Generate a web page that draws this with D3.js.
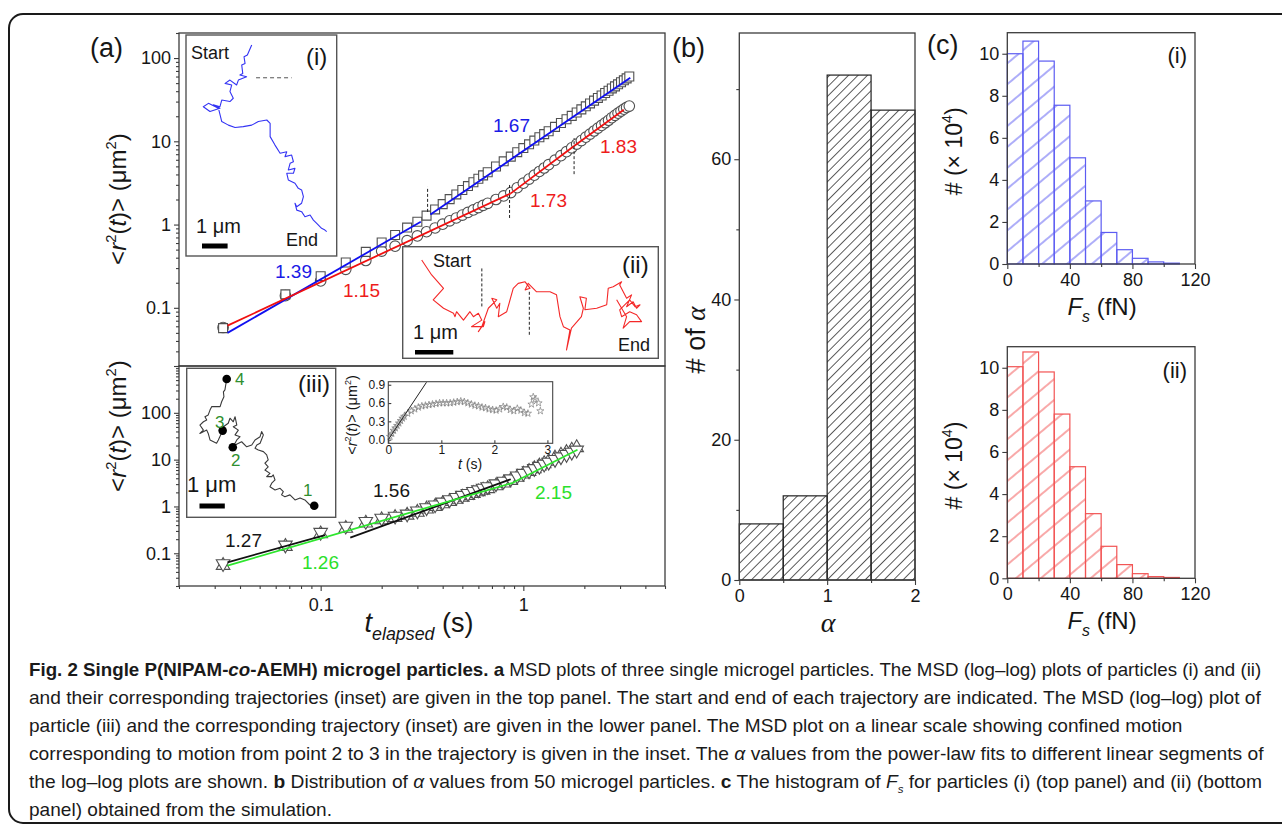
<!DOCTYPE html>
<html><head><meta charset="utf-8">
<script src="https://cdn.jsdelivr.net/npm/d3@7"></script>
<style>
body{margin:0;background:#fff}
svg text{font-family:"Liberation Sans",Arial,sans-serif}
</style></head>
<body><svg id="fig" width="1282" height="830"></svg>
<script>
// ---- panel (a) top: MSD of particles (i) squares and (ii) circles
const tTop = [0.033,0.067,0.1,0.133,0.167,0.2,0.233,0.267,0.3,0.333,0.367,0.4,0.433,0.467,0.5,0.533,0.567,0.6,0.633,0.667,
  0.733,0.8,0.867,0.933,1.0,1.067,1.133,1.2,1.267,1.333,1.433,1.533,1.633,1.733,1.833,1.933,2.033,2.133,2.233,2.333,
  2.433,2.533,2.633,2.733,2.833,2.933,3.033,3.133,3.233,3.333];
const msdI = [0.057,0.145,0.24,0.35,0.47,0.61,0.75,0.92,1.08,1.28,1.52,1.76,2.02,2.3,2.6,2.9,3.22,3.55,3.9,4.25,
  4.98,5.75,6.55,7.4,8.3,9.2,10.2,11.2,12.2,13.2,14.9,16.6,18.4,20.2,22.2,24.2,26.3,28.5,30.8,33.2,
  35.5,38,40.5,43.2,45.7,48.4,51.2,54,57,60];
const msdII = [0.058,0.14,0.21,0.29,0.37,0.48,0.55,0.64,0.73,0.82,0.91,1.01,1.11,1.2,1.3,1.4,1.5,1.6,1.7,1.8,
  2.0,2.21,2.42,2.77,3.14,3.52,3.92,4.34,4.78,5.24,5.94,6.72,7.51,8.36,9.25,10.2,11.2,12.2,13.3,14.4,
  15.5,16.7,17.9,19.2,20.5,21.8,23.1,24.3,25.5,26.5];
// power-law fit segments [t0, y0, t1, y1]
const fitsI  = [[0.0347,0.050,0.312,1.08],[0.348,1.32,3.37,58]];
const fitsII = [[0.0347,0.061,0.867,2.37],[0.867,2.37,1.78,8.8],[1.78,8.8,3.13,24]];
const breaksTop = [[0.337,1.42,2.84],[0.855,1.2,3.14],[1.78,4.03,10.9]];

// ---- panel (a) bottom: particle (iii)
const tBot = [0.033,0.067,0.1,0.133,0.167,0.2,0.233,0.267,0.3,0.333,0.367,0.4,0.433,0.467,0.5,0.533,0.567,0.6,0.633,0.667,
  0.733,0.8,0.867,0.933,1.0,1.067,1.133,1.2,1.267,1.333,1.433,1.533,1.633,1.733,1.833];
const msdIIIdn = [0.060,0.150,0.28,0.38,0.48,0.56,0.62,0.69,0.80,0.94,1.08,1.24,1.40,1.56,1.73,1.9,2.09,2.27,2.46,2.65,
  3.05,3.47,3.9,4.48,5.1,5.77,6.46,7.2,8.0,8.8,10.1,11.5,12.9,14.4,16.0];
const msdIIIup = [0.055,0.14,0.26,0.34,0.44,0.52,0.58,0.65,0.75,0.88,1.0,1.14,1.28,1.42,1.58,1.72,1.9,2.05,2.22,2.4,
  2.75,3.15,3.6,4.2,4.9,5.6,6.4,7.3,8.2,9.2,10.8,12.5,14.2,16.0,18.0];
const fitsBlack = [[0.0347,0.064,0.105,0.245],[0.14,0.215,0.867,3.81]];
const fitsGreen = [[0.0347,0.0545,0.887,3.2],[0.887,3.2,1.85,16.3]];

// ---- trajectories (micrometres, start at 0,0)
const trajI = [[0,0],[-0.17,-0.39],[-0.30,-0.46],[-0.26,-0.72],[-0.39,-0.78],[-0.35,-1.11],[-0.46,-1.17],[-0.20,-1.24],
  [-0.52,-1.37],[-0.59,-1.56],[-0.85,-1.37],[-1.04,-1.50],[-0.78,-1.56],[-0.85,-1.82],[-0.72,-2.08],[-0.85,-2.21],
  [-1.17,-2.15],[-1.24,-2.41],[-1.50,-2.34],[-1.24,-2.47],[-1.63,-2.60],[-1.89,-2.41],[-1.69,-2.28],[-1.30,-2.47],
  [-1.17,-2.99],[-0.91,-3.13],[-0.65,-3.22],[-0.33,-3.19],[0,-3.13],[0.26,-2.99],[0.59,-2.93],[0.72,-3.06],
  [0.72,-3.58],[0.91,-3.91],[1.11,-4.23],[1.37,-4.17],[1.30,-4.36],[1.56,-4.30],[1.63,-4.56],[1.50,-4.62],
  [1.43,-4.88],[1.69,-4.82],[1.63,-5.01],[1.37,-5.01],[1.43,-5.27],[1.69,-5.40],[1.82,-5.60],[1.95,-5.66],
  [2.02,-5.92],[1.95,-6.18],[1.76,-6.32],[1.69,-6.18],[1.76,-6.45],[1.95,-6.51],[2.08,-6.71],[2.28,-6.64],
  [2.41,-6.84],[2.54,-6.97],[2.73,-7.16],[2.86,-7.23],[2.93,-7.29]];
const trajII = [[0,0],[0.26,-0.39],[0.57,-0.74],[0.30,-1.04],[0.57,-1.26],[0.83,-1.39],[0.87,-1.48],[0.91,-1.35],
  [1.09,-1.57],[1.26,-1.35],[1.35,-1.48],[1.48,-1.39],[1.57,-1.57],[1.30,-1.74],[1.61,-1.74],[1.65,-1.61],
  [1.48,-1.87],[1.57,-1.74],[1.74,-1.26],[1.96,-1.04],[1.83,-1.00],[1.96,-1.26],[2.04,-1.13],[2.00,-1.48],
  [2.22,-1.35],[2.39,-0.74],[2.52,-0.61],[2.70,-0.57],[2.83,-0.74],[2.70,-0.78],[2.78,-0.61],[3.00,-0.83],
  [3.35,-0.83],[3.52,-0.91],[3.61,-1.48],[3.70,-1.74],[3.87,-1.83],[3.78,-2.35],[3.91,-1.78],[4.17,-1.48],
  [4.22,-1.26],[4.13,-0.96],[4.30,-1.00],[4.26,-1.30],[4.57,-1.26],[4.83,-1.17],[4.87,-0.74],[5.00,-0.70],
  [5.22,-0.57],[5.17,-0.65],[5.35,-1.00],[5.48,-0.91],[5.35,-1.22],[5.52,-1.09],[5.61,-1.26],[5.70,-1.17],
  [5.57,-1.22],[5.43,-1.04],[5.17,-1.30],[5.22,-1.48],[5.43,-1.35],[5.61,-1.43],[5.74,-1.61],[5.43,-1.61],
  [5.26,-1.78],[5.35,-1.48],[5.09,-1.04]];
const trajIII = [[0,0],[-0.07,-0.43],[-0.13,-0.51],[-0.11,-0.70],[-0.20,-0.90],[-0.26,-1.09],[-0.59,-1.09],[-0.66,-1.23],
  [-0.73,-1.42],[-0.86,-1.49],[-0.79,-1.62],[-0.92,-1.69],[-1.06,-1.82],[-0.92,-2.02],[-1.06,-2.15],[-0.79,-2.02],
  [-0.73,-2.15],[-0.66,-2.41],[-0.40,-2.54],[-0.33,-2.41],[-0.16,-2.04],[-0.13,-1.89],[0.06,-1.75],[0.13,-1.55],
  [0.26,-1.69],[0.33,-1.49],[0.40,-1.82],[0.26,-1.89],[0.46,-2.02],[0.33,-2.21],[0.53,-2.28],[0.40,-2.41],
  [0.24,-2.70],[0.33,-2.61],[0.59,-2.48],[0.79,-2.68],[0.99,-2.61],[1.12,-2.41],[1.32,-2.28],[1.38,-2.08],
  [1.45,-2.21],[1.32,-2.54],[1.19,-2.61],[1.12,-2.74],[1.25,-2.81],[1.45,-2.87],[1.58,-3.00],[1.64,-3.20],
  [1.51,-3.33],[1.64,-3.47],[1.51,-3.60],[1.71,-3.73],[1.58,-3.86],[1.78,-3.86],[1.84,-3.79],[1.91,-3.99],
  [1.78,-4.12],[1.71,-4.26],[1.91,-4.39],[2.11,-4.32],[2.24,-4.45],[2.17,-4.58],[2.30,-4.65],[2.50,-4.58],
  [2.70,-4.78],[2.90,-4.70],[3.09,-4.78],[3.29,-4.98],[3.46,-5.01]];
const pointsIII = [["4",0,0],["3",-0.16,-2.04],["2",0.24,-2.70],["1",3.46,-5.01]];
const dashI = [[0.17,-1.28],[1.56,-1.28]];
const dashII = [[[1.57,-0.22],[1.57,-1.22]],[[2.81,-0.83],[2.81,-1.97]]];

// ---- inset: linear MSD, confined part of (iii)
const tConf = [0.033,0.067,0.1,0.133,0.167,0.2,0.233,0.267,0.3,0.367,0.433,0.5,0.567,0.633,0.7,0.767,0.833,0.9,0.967,1.033,
  1.1,1.167,1.233,1.3,1.367,1.433,1.5,1.567,1.633,1.7,1.767,1.833,1.9,1.967,2.033,2.1,2.167,2.233,2.3,2.367,
  2.433,2.5,2.567,2.633,2.7,2.733,2.767,2.833,2.867];
const msdConf = [0.05,0.10,0.15,0.19,0.23,0.27,0.31,0.35,0.38,0.43,0.47,0.50,0.53,0.55,0.56,0.57,0.58,0.59,0.60,0.60,
  0.60,0.60,0.61,0.62,0.63,0.62,0.60,0.58,0.56,0.55,0.53,0.52,0.50,0.49,0.48,0.50,0.54,0.53,0.49,0.47,
  0.51,0.48,0.44,0.43,0.58,0.70,0.66,0.60,0.47];
const confFit = [[0,0],[0.72,0.94]];

// ---- panel (b): distribution of alpha
const alphaBins = [0,0.5,1,1.5];
const alphaCounts = [8,12,72,67];

// ---- panel (c): histogram of Fs (x 10^4)
const fsBins = [0,10,20,30,40,50,60,70,80,90,100];
const histI  = [10.0,10.6,9.65,7.55,5.05,3.0,1.5,0.68,0.27,0.1,0.04];
const histII = [10.05,10.75,9.8,7.8,5.3,3.07,1.52,0.65,0.22,0.08,0.04];

const INK = '#161616', FRAME = '#3c3c3c';
const svg = d3.select('#fig');
svg.append('rect').attr('width',1282).attr('height',830).attr('fill','#fff');
svg.append('rect').attr('x',9).attr('y',14).attr('width',1330).attr('height',809).attr('rx',14)
  .attr('fill','none').attr('stroke','#1a1a1a').attr('stroke-width',2);
const defs = svg.append('defs');

function rich(g, x, y, parts, o) {
  const fs = o.size;
  const t = g.append('text').attr('x',x).attr('y',y).attr('font-size',fs)
    .attr('fill',o.fill||INK).attr('text-anchor',o.anchor||'start');
  if (o.rotate) t.attr('transform',`rotate(${o.rotate},${x},${y})`);
  if (o.family) t.attr('font-family',o.family);
  let shift = 0;
  parts.forEach(p => {
    const s = t.append('tspan').text(p.t);
    const want = p.sup ? -0.42*fs : p.sub ? 0.28*fs : 0;
    if (want !== shift) { s.attr('dy', want-shift); shift = want; }
    if (p.sup || p.sub) s.attr('font-size', fs*(p.sc||0.62));
    if (p.i) s.attr('font-style','italic');
    if (p.b) s.attr('font-weight','bold');
    if (p.f) s.attr('font-family',p.f);
  });
  return t;
}
function label(g, x, y, txt, size, fill, anchor) {
  return g.append('text').attr('x',x).attr('y',y).attr('font-size',size)
    .attr('fill',fill||INK).attr('text-anchor',anchor||'start').text(txt);
}
function styleAxis(a, size) {
  a.attr('font-size',size).attr('font-family','"Liberation Sans",Arial,sans-serif');
  a.select('.domain').remove();
  a.selectAll('line').attr('stroke',FRAME).attr('stroke-width',1.1);
  a.selectAll('text').attr('fill',INK);
}
const isDecade = v => Math.abs(Math.log10(v) - Math.round(Math.log10(v))) < 1e-9;
function logVals(lo, hi) {
  const v = [];
  for (let e = -3; e <= 4; e++) for (let k = 1; k < 10; k++) {
    const t = +(k*Math.pow(10,e)).toPrecision(3);
    if (t >= lo*0.999 && t <= hi*1.001) v.push(t);
  }
  return v;
}
function logAxis(g, sc, pos, side, labels) {
  const all = logVals(...sc.domain().slice().sort((a,b)=>a-b));
  const mk = side === 'left' ? d3.axisLeft : d3.axisBottom;
  const tr = side === 'left' ? `translate(${pos},0)` : `translate(0,${pos})`;
  styleAxis(g.append('g').attr('transform',tr)
    .call(mk(sc).tickValues(all.filter(v=>!isDecade(v))).tickSize(3).tickFormat('')), 18);
  styleAxis(g.append('g').attr('transform',tr)
    .call(mk(sc).tickValues(all.filter(isDecade)).tickSize(5).tickPadding(side==='left'?3:7)
      .tickFormat(d => labels.includes(d) ? String(d) : '')), 18);
}
function hatch(id, color, spacing, angle, w) {
  const p = defs.append('pattern').attr('id',id).attr('patternUnits','userSpaceOnUse')
    .attr('width',spacing).attr('height',spacing).attr('patternTransform',`rotate(${angle})`);
  p.append('line').attr('x1',spacing/2).attr('y1',0).attr('x2',spacing/2).attr('y2',spacing)
    .attr('stroke',color).attr('stroke-width',w);
}

// ================= panel (a) =================
const gA = svg.append('g');
const xA = d3.scaleLog().domain([0.02,5]).range([179,665]);
const yTop = d3.scaleLog().domain([0.02,200]).range([366,33]);
const yBot = d3.scaleLog().domain([0.02,1000]).range([586,366]);

label(gA, 90, 57, '(a)', 27);
logAxis(gA, yTop, 179, 'left', [0.1,1,10,100]);
logAxis(gA, yBot, 179, 'left', [0.1,1,10,100]);
logAxis(gA, xA, 586, 'bottom', [0.1,1]);
gA.append('rect').attr('x',179).attr('y',33).attr('width',486).attr('height',333)
  .attr('fill','none').attr('stroke',FRAME).attr('stroke-width',1.3);
gA.append('rect').attr('x',179).attr('y',366).attr('width',486).attr('height',220)
  .attr('fill','none').attr('stroke',FRAME).attr('stroke-width',1.3);

const msdTitle = [{t:'<'},{t:'r',i:1},{t:'2',sup:1},{t:'('},{t:'t',i:1},{t:')> (\u03bcm'},{t:'2',sup:1},{t:')'}];
rich(gA, 126, 199, msdTitle, {size:24, anchor:'middle', rotate:-90});
rich(gA, 126, 426, msdTitle, {size:24, anchor:'middle', rotate:-90});
rich(gA, 419, 632, [{t:'t',i:1},{t:'elapsed',i:1,sub:1,sc:0.66},{t:' (s)'}], {size:27, anchor:'middle'});

function markers(g, ts, vs, y, sym, size, rot) {
  g.selectAll(null).data(ts.map((t,i)=>[t,vs[i]])).enter().append('path')
    .attr('d', d3.symbol(sym, size)())
    .attr('transform', d => `translate(${xA(d[0])},${y(d[1])}) rotate(${rot||0})`)
    .attr('fill','#fff').attr('stroke','#505050').attr('stroke-width',1.1);
}
function fitLines(g, segs, y, color, w) {
  const ln = d3.line().x(d=>xA(d[0])).y(d=>y(d[1]));
  segs.forEach(s => g.append('path').attr('d', ln([[s[0],s[1]],[s[2],s[3]]]))
    .attr('stroke',color).attr('stroke-width',w||1.8).attr('fill','none'));
}
markers(gA, tTop, msdII, yTop, d3.symbolCircle, 88);
markers(gA, tTop, msdI, yTop, d3.symbolSquare, 80);
fitLines(gA, fitsI, yTop, '#1010f0');
fitLines(gA, fitsII, yTop, '#f01010');
breaksTop.forEach(b => gA.append('line').attr('x1',xA(b[0])).attr('x2',xA(b[0]))
  .attr('y1',yTop(b[1])).attr('y2',yTop(b[2])).attr('stroke','#222').attr('stroke-width',1).attr('stroke-dasharray','3,2'));
label(gA, 493, 132, '1.67', 19, '#1a1ae6');
label(gA, 600, 153, '1.83', 19, '#ee1c1c');
label(gA, 530, 207, '1.73', 19, '#ee1c1c');
label(gA, 275, 278, '1.39', 19, '#1a1ae6');
label(gA, 343, 297, '1.15', 19, '#ee1c1c');

markers(gA, tBot, msdIIIup, yBot, d3.symbolTriangle, 80, 0);
markers(gA, tBot, msdIIIdn, yBot, d3.symbolTriangle, 80, 180);
fitLines(gA, fitsBlack, yBot, '#111');
fitLines(gA, fitsGreen, yBot, '#2ee62e');
label(gA, 373, 497, '1.56', 19, INK);
label(gA, 535, 499, '2.15', 19, '#2be02b');
label(gA, 225, 547, '1.27', 19, INK);
label(gA, 302, 569, '1.26', 19, '#2be02b');

// inset boxes
function box(g, x, y, w, h) {
  g.append('rect').attr('x',x).attr('y',y).attr('width',w).attr('height',h)
    .attr('fill','#fff').attr('stroke','#555').attr('stroke-width',1.4);
}
function traj(g, pts, x0, y0, pxPerUm, color) {
  const sx = d3.scaleLinear().domain([0,1]).range([x0, x0+pxPerUm]);
  const sy = d3.scaleLinear().domain([0,1]).range([y0, y0-pxPerUm]);
  g.append('path').attr('d', d3.line().x(d=>sx(d[0])).y(d=>sy(d[1]))(pts))
    .attr('fill','none').attr('stroke',color).attr('stroke-width',1.1).attr('stroke-linejoin','round');
  return {sx, sy};
}
function scaleBar(g, s, x, y, h) {
  g.append('rect').attr('x',x).attr('y',y).attr('width',s.sx(1)-s.sx(0)).attr('height',h).attr('fill','#000');
}
// (i)
box(gA, 186, 35, 150.7, 221);
const sI = traj(gA, trajI, 251.7, 45, 25.6, '#3434f4');
gA.append('path').attr('d', d3.line().x(d=>sI.sx(d[0])).y(d=>sI.sy(d[1]))(dashI))
  .attr('stroke','#555').attr('stroke-width',1).attr('stroke-dasharray','4,3');
label(gA, 191, 59, 'Start', 18);
label(gA, 306, 65, '(i)', 24);
label(gA, 196, 233, '1 \u03bcm', 20);
scaleBar(gA, sI, 202, 243.5, 5);
label(gA, 286, 246, 'End', 18);
// (ii)
box(gA, 402.7, 246.7, 255.6, 111.6);
const sII = traj(gA, trajII, 421.7, 260, 38.3, '#f42828');
dashII.forEach(dd => gA.append('path').attr('d', d3.line().x(d=>sII.sx(d[0])).y(d=>sII.sy(d[1]))(dd))
  .attr('stroke','#222').attr('stroke-width',1).attr('stroke-dasharray','3,2'));
label(gA, 433, 267, 'Start', 18);
label(gA, 622, 273, '(ii)', 24);
label(gA, 413, 339, '1 \u03bcm', 20);
scaleBar(gA, sII, 415, 350, 4.5);
label(gA, 618, 351, 'End', 18);
// (iii)
box(gA, 186.7, 368.3, 149, 149);
const sIII = traj(gA, trajIII, 226.7, 379, 25.3, '#3a3a3a');
pointsIII.forEach(p => gA.append('circle').attr('cx',sIII.sx(p[1])).attr('cy',sIII.sy(p[2])).attr('r',4.3).attr('fill','#000'));
const numPos = {"4":[235,385],"3":[215,428],"2":[231,466],"1":[303,496]};
pointsIII.forEach(p => label(gA, numPos[p[0]][0], numPos[p[0]][1], p[0], 17, '#2f8f2f'));
label(gA, 298, 392, '(iii)', 24);
label(gA, 187, 492, '1 \u03bcm', 22);
scaleBar(gA, sIII, 199.5, 503.5, 5);

// linear inset
const xIn = d3.scaleLinear().domain([0,3.1]).range([388.3,552.7]);
const yIn = d3.scaleLinear().domain([-0.06,0.95]).range([443.3,381.7]);
gA.append('rect').attr('x',388.3).attr('y',381.7).attr('width',164.4).attr('height',61.6)
  .attr('fill','#fff').attr('stroke','#444').attr('stroke-width',1.1);
const axIy = gA.append('g').attr('transform','translate(388.3,0)')
  .call(d3.axisLeft(yIn).tickValues([0,0.3,0.6,0.9]).tickSize(-3).tickPadding(3).tickFormat(d3.format('.1f')));
styleAxis(axIy, 12);
const axIx = gA.append('g').attr('transform','translate(0,443.3)')
  .call(d3.axisBottom(xIn).tickValues([0,1,2,3]).tickSize(-3).tickPadding(2).tickFormat(d3.format('d')));
styleAxis(axIx, 12);
gA.selectAll(null).data(tConf.map((t,i)=>[t,msdConf[i]])).enter().append('path')
  .attr('d', d3.symbol(d3.symbolStar, 16)())
  .attr('transform', d => `translate(${xIn(d[0])},${yIn(d[1])})`)
  .attr('fill','none').attr('stroke','#808080').attr('stroke-width',0.7);
gA.append('path').attr('d', d3.line().x(d=>xIn(d[0])).y(d=>yIn(d[1]))(confFit))
  .attr('stroke','#222').attr('stroke-width',1);
rich(gA, 470, 469, [{t:'t',i:1},{t:' (s)'}], {size:14, anchor:'middle'});
rich(gA, 357, 415, msdTitle, {size:14.5, anchor:'middle', rotate:-90});

// ================= panel (b) =================
const gB = svg.append('g');
hatch('hb', '#333', 6.7, 45, 0.8);
const xB = d3.scaleLinear().domain([0,2]).range([739.3,915]);
const yB = d3.scaleLinear().domain([0,78]).range([580,33]);
label(gB, 672, 57, '(b)', 27);
gB.selectAll(null).data(alphaBins.map((b,i)=>[b,alphaCounts[i]])).enter().append('rect')
  .attr('x', d=>xB(d[0])).attr('width', d=>xB(d[0]+0.5)-xB(d[0]))
  .attr('y', d=>yB(d[1])).attr('height', d=>yB(0)-yB(d[1]))
  .attr('fill','url(#hb)').attr('stroke','#222').attr('stroke-width',1.2);
gB.append('rect').attr('x',739.3).attr('y',33).attr('width',175.7).attr('height',547)
  .attr('fill','none').attr('stroke',FRAME).attr('stroke-width',1.3);
styleAxis(gB.append('g').attr('transform','translate(739.3,0)')
  .call(d3.axisLeft(yB).tickValues([10,30,50,70]).tickSize(3).tickFormat('')), 18);
styleAxis(gB.append('g').attr('transform','translate(739.3,0)')
  .call(d3.axisLeft(yB).tickValues([0,20,40,60]).tickSize(5).tickPadding(3)), 18);
styleAxis(gB.append('g').attr('transform','translate(0,580)')
  .call(d3.axisBottom(xB).tickValues([0.5,1.5]).tickSize(3).tickFormat('')), 18);
styleAxis(gB.append('g').attr('transform','translate(0,580)')
  .call(d3.axisBottom(xB).tickValues([0,1,2]).tickSize(5).tickPadding(4).tickFormat(d3.format('d'))), 18);
rich(gB, 705, 340, [{t:'# of '},{t:'\u03b1',i:1,f:'"Liberation Serif",serif'}], {size:27, anchor:'middle', rotate:-90});
rich(gB, 828, 632, [{t:'\u03b1',i:1,f:'"Liberation Serif",serif'}], {size:28, anchor:'middle'});

// ================= panel (c) =================
const gC = svg.append('g');
label(gC, 927, 54, '(c)', 27);
hatch('hc1', '#5c5cf2', 16, 50, 1);
hatch('hc2', '#f25454', 16, 50, 1);
const xC = d3.scaleLinear().domain([0,120]).range([1007.3,1195]);
function histPanel(vals, top, bottom, pat, color, tag, tagY) {
  const y = d3.scaleLinear().domain([0,11]).range([bottom, top]);
  gC.selectAll(null).data(fsBins.map((b,i)=>[b,vals[i]])).enter().append('rect')
    .attr('x', d=>xC(d[0])).attr('width', d=>xC(d[0]+10)-xC(d[0]))
    .attr('y', d=>y(d[1])).attr('height', d=>y(0)-y(d[1]))
    .attr('fill',`url(#${pat})`).attr('stroke',color).attr('stroke-width',1.2);
  gC.append('rect').attr('x',1007.3).attr('y',top).attr('width',187.7).attr('height',bottom-top)
    .attr('fill','none').attr('stroke',FRAME).attr('stroke-width',1.3);
  styleAxis(gC.append('g').attr('transform','translate(1007.3,0)')
    .call(d3.axisLeft(y).tickValues([0,2,4,6,8,10]).tickSize(5).tickPadding(3)), 18);
  styleAxis(gC.append('g').attr('transform',`translate(0,${bottom})`)
    .call(d3.axisBottom(xC).tickValues([20,60,100]).tickSize(3).tickFormat('')), 18);
  styleAxis(gC.append('g').attr('transform',`translate(0,${bottom})`)
    .call(d3.axisBottom(xC).tickValues([0,40,80,120]).tickSize(5).tickPadding(4)), 18);
  label(gC, 1187, tagY, tag, 22, INK, 'end');
  rich(gC, 962, (top+bottom)/2 + 3, [{t:'# (\u00d7 10'},{t:'4',sup:1},{t:')'}], {size:23, anchor:'middle', rotate:-90});
  rich(gC, 1102, bottom+51, [{t:'F',i:1},{t:'s',i:1,sub:1,sc:0.66},{t:' (fN)'}], {size:24, anchor:'middle'});
}
histPanel(histI, 32.7, 264, 'hc1', '#5c5cf2', '(i)', 63);
histPanel(histII, 346.7, 578.3, 'hc2', '#f25454', '(ii)', 378);

// ================= caption =================
const capLines = [
  [{t:'Fig. 2 Single P(NIPAM-',b:1},{t:'co',b:1,i:1},{t:'-AEMH) microgel particles.',b:1},{t:' '},{t:'a',b:1},
   {t:' MSD plots of three single microgel particles. The MSD (log\u2013log) plots of particles (i) and (ii)'}],
  [{t:'and their corresponding trajectories (inset) are given in the top panel. The start and end of each trajectory are indicated. The MSD (log\u2013log) plot of'}],
  [{t:'particle (iii) and the corresponding trajectory (inset) are given in the lower panel. The MSD plot on a linear scale showing confined motion'}],
  [{t:'corresponding to motion from point 2 to 3 in the trajectory is given in the inset. The '},{t:'\u03b1',i:1},
   {t:' values from the power-law fits to different linear segments of'}],
  [{t:'the log\u2013log plots are shown. '},{t:'b',b:1},{t:' Distribution of '},{t:'\u03b1',i:1},
   {t:' values from 50 microgel particles. '},{t:'c',b:1},{t:' The histogram of '},{t:'F',i:1},{t:'s',i:1,sub:1,sc:0.6},
   {t:' for particles (i) (top panel) and (ii) (bottom'}],
  [{t:'panel) obtained from the simulation.'}]
];
const capEnds = [1262,1262,null,1264,1262,null];
const capX = 29, capY0 = 676, capDy = 28;
const gCap = svg.append('g');
const capTexts = capLines.map((parts,i) => {
  const gl = gCap.append('g');
  const t = rich(gl, 0, 0, parts, {size:18, family:'"Noto Sans","Open Sans",sans-serif', fill:'#1a1a1a'});
  return {gl, w: t.node().getComputedTextLength()};
});
const fullScales = capTexts.map((c,i)=> capEnds[i] ? (capEnds[i]-capX)/c.w : null).filter(v=>v);
const meanScale = d3.mean(fullScales);
capTexts.forEach((c,i) => {
  const s = capEnds[i] ? (capEnds[i]-capX)/c.w : meanScale;
  c.gl.attr('transform',`translate(${capX},${capY0+i*capDy}) scale(${s},1)`);
});
</script>
</body></html>
